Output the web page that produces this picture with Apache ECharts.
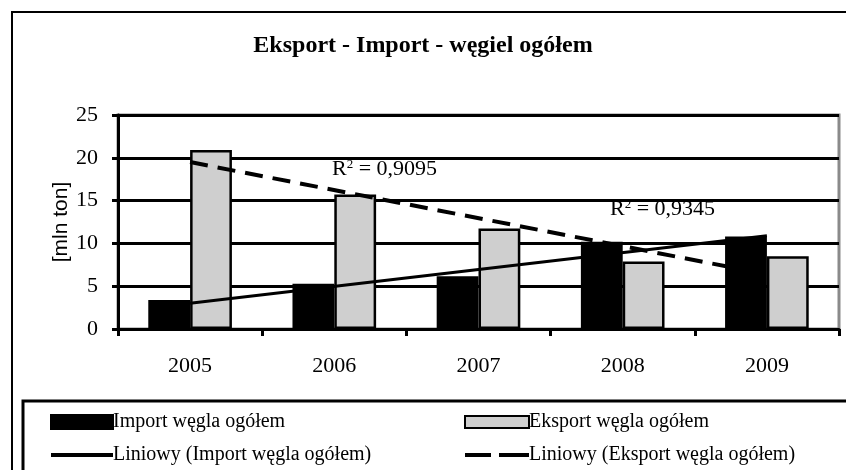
<!DOCTYPE html>
<html>
<head>
<meta charset="utf-8">
<script src="https://cdn.jsdelivr.net/npm/echarts@6/dist/echarts.min.js"></script>
<style>
  html, body { margin: 0; padding: 0; background: #fff; }
  #chart { width: 846px; height: 470px; }
</style>
</head>
<body>
<div id="chart"></div>
<script>
var years = ['2005', '2006', '2007', '2008', '2009'];
var importData = [3.4, 5.3, 6.15, 10.2, 10.8];
var exportData = [20.9, 15.7, 11.75, 7.9, 8.5];
// linie trendu (poczatek i koniec)
var importTrend = [3.0, null, null, null, 10.9];
var exportTrend = [19.5, null, null, null, 6.4];
var r2Labels = ['0,9095', '0,9345'];

var serif = 'Liberation Serif';
var myChart = echarts.init(document.getElementById('chart'));

var r2Style = function (val) {
    return {
        text: 'R{sup|2} = ' + val,
        fontFamily: serif, fontSize: 22, fill: '#000',
        rich: { sup: { fontFamily: serif, fontSize: 13, verticalAlign: 'top', lineHeight: 12, padding: [0, 0, 6, 0] } }
    };
};

var option = {
    animation: false,
    backgroundColor: '#fff',
    title: {
        text: 'Eksport - Import - węgiel ogółem',
        left: 'center',
        top: 29,
        textStyle: { fontFamily: serif, fontWeight: 'bold', fontSize: 24, color: '#000' }
    },
    legend: [{
        orient: 'vertical',
        left: 50,
        top: 412,
        height: 62,
        padding: 0,
        itemWidth: 62,
        itemHeight: 14,
        itemGap: 13,
        symbolKeepAspect: true,
        data: [
            { name: 'Import węgla ogółem', icon: 'rect' },
            { name: 'Liniowy (Import węgla ogółem)', icon: 'path://M0,0h62v4h-62z' }
        ],
        textStyle: { fontFamily: serif, fontSize: 20, color: '#000', padding: [0, 0, 0, -5] }
    }, {
        orient: 'vertical',
        left: 464,
        top: 412,
        height: 62,
        padding: 0,
        itemWidth: 64,
        itemHeight: 12,
        itemGap: 13,
        symbolKeepAspect: true,
        data: [
            { name: 'Eksport węgla ogółem', icon: 'rect' },
            { name: 'Liniowy (Eksport węgla ogółem)', icon: 'path://M0,0h26v4h-26z M34,0h30v4h-30z' }
        ],
        textStyle: { fontFamily: serif, fontSize: 20, color: '#000', padding: [0, 0, 0, -5] }
    }],
    grid: {
        left: 118, right: 7, top: 115, bottom: 141,
        show: true,
        borderColor: '#8a8a8a',
        borderWidth: 3
    },
    xAxis: {
        type: 'category',
        data: years,
        axisLine: { lineStyle: { color: '#000', width: 3 } },
        axisTick: { show: true, length: 7, lineStyle: { color: '#000', width: 3 } },
        axisLabel: { margin: 26, fontFamily: serif, fontSize: 22, color: '#000' }
    },
    yAxis: {
        type: 'value',
        min: 0, max: 25, interval: 5,
        name: '[mln ton]',
        nameLocation: 'middle',
        nameRotate: 90,
        nameGap: 46,
        nameMoveOverlap: false,
        nameTextStyle: { fontFamily: 'Liberation Sans', fontSize: 21, color: '#000' },
        axisLine: { show: true, lineStyle: { color: '#000', width: 3 } },
        axisTick: { show: true, length: 6, lineStyle: { color: '#000', width: 3 } },
        axisLabel: { margin: 20, fontFamily: serif, fontSize: 22, color: '#000' },
        splitLine: { lineStyle: { color: '#000', width: 3 } }
    },
    series: [{
        name: 'Import węgla ogółem',
        type: 'bar',
        data: importData,
        barGap: '0%',
        barCategoryGap: '42%',
        itemStyle: { color: '#000', borderColor: '#000', borderWidth: 2 }
    }, {
        name: 'Eksport węgla ogółem',
        type: 'bar',
        data: exportData,
        itemStyle: { color: '#cfcfcf', borderColor: '#000', borderWidth: 2.5 }
    }, {
        name: 'Liniowy (Import węgla ogółem)',
        type: 'line',
        data: importTrend,
        connectNulls: true,
        symbol: 'none',
        z: 5,
        itemStyle: { color: '#000' },
        lineStyle: { color: '#000', width: 3 }
    }, {
        name: 'Liniowy (Eksport węgla ogółem)',
        type: 'line',
        data: exportTrend,
        connectNulls: true,
        symbol: 'none',
        z: 5,
        itemStyle: { color: '#000' },
        lineStyle: { color: '#000', width: 4, type: [18, 10] }
    }],
    graphic: [{
        type: 'rect',
        silent: true,
        shape: { x: 12, y: 12, width: 850, height: 470 },
        style: { fill: null, stroke: '#000', lineWidth: 2 },
        z: -1
    }, {
        type: 'rect',
        silent: true,
        shape: { x: 23, y: 401, width: 840, height: 80 },
        style: { fill: null, stroke: '#000', lineWidth: 3 },
        z: -1
    }, {
        type: 'text',
        left: 332,
        top: 158,
        style: r2Style(r2Labels[0]),
        z: 10
    }, {
        type: 'text',
        left: 610,
        top: 198,
        style: r2Style(r2Labels[1]),
        z: 10
    }]
};
myChart.setOption(option);
</script>
</body>
</html>
